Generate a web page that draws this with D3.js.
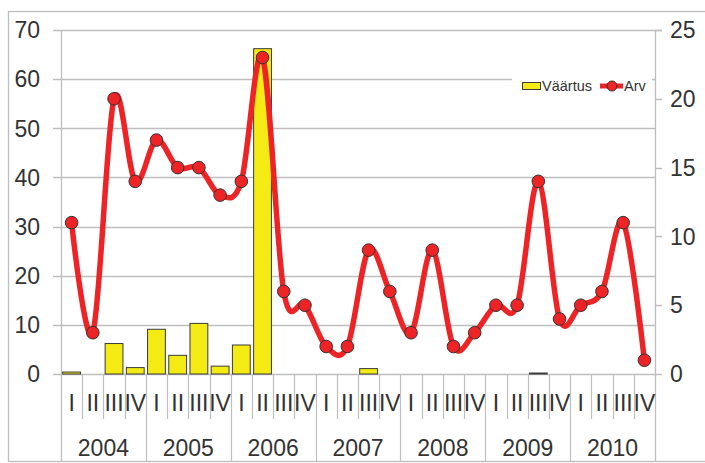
<!DOCTYPE html>
<html><head><meta charset="utf-8">
<script src="https://cdn.jsdelivr.net/npm/d3@7"></script>
<style>
html,body{margin:0;padding:0;background:#fff;}
svg{display:block;font-family:"Liberation Sans",Arial,sans-serif;}
.ax{font-family:"Liberation Sans Narrow","Liberation Sans",sans-serif;}
</style></head>
<body><svg id="c" width="705" height="463"></svg>
<script>
const years = ["2004","2005","2006","2007","2008","2009","2010"];
const quarters = ["I","II","III","IV"];
const vaartus = [0.4,0,6.2,1.3, 9.1,3.8,10.3,1.6, 5.9,66.2,0,0, 0,0,1.1,0, 0,0,0,0, 0,0,0.2,0, 0,0,0,0];
const arv = [11,3,20,14, 17,15,15,13, 14,23,6,5, 2,2,9,6, 3,9,2,3, 5,5,14,4, 5,6,11,1];
const leftTicks = [0,10,20,30,40,50,60,70];
const rightTicks = [0,5,10,15,20,25];
const seriesNames = ["Väärtus","Arv"];

const svg = d3.select("#c");
const L = 61, R = 655, T = 30, B = 374, BOT = 461;
const grid = "#BEBEBE", txt = "#333";
const FS = 23;
const cats = d3.range(years.length*quarters.length);
const x = d3.scaleBand().domain(cats).range([L,R]).padding(0);
const bw = x.bandwidth();
const yL = d3.scaleLinear().domain([0,70]).range([B,T]);
const yR = d3.scaleLinear().domain([0,25]).range([B,T]);

// outer border
svg.append("rect").attr("x",8.5).attr("y",11.5).attr("width",710).attr("height",BOT-11)
  .attr("fill","none").attr("stroke",grid).attr("stroke-width",1.3);

const gl = svg.append("g");
// gridlines + left ticks
leftTicks.forEach(t=>{
  const yy = Math.round(yL(t))+0.5;
  gl.append("line").attr("x1",L-8).attr("x2",t===70?R+7:R).attr("y1",yy).attr("y2",yy)
    .attr("stroke",grid).attr("stroke-width",1.5);
  gl.append("text").attr("class","ax").attr("x",40).attr("y",yL(t)).attr("dy","0.36em").attr("text-anchor","end")
    .attr("font-size",FS).attr("fill",txt).text(t);
});
// right ticks
rightTicks.forEach(t=>{
  const yy = Math.round(yR(t))+0.5;
  gl.append("line").attr("x1",R).attr("x2",R+7).attr("y1",yy).attr("y2",yy)
    .attr("stroke",grid).attr("stroke-width",1.5);
  gl.append("text").attr("class","ax").attr("x",670).attr("y",yR(t)).attr("dy","0.36em").attr("text-anchor","start")
    .attr("font-size",FS).attr("fill",txt).text(t);
});
// axis lines
gl.append("line").attr("x1",L+0.5).attr("x2",L+0.5).attr("y1",T).attr("y2",BOT).attr("stroke",grid).attr("stroke-width",1.3);
gl.append("line").attr("x1",R+0.5).attr("x2",R+0.5).attr("y1",T).attr("y2",BOT).attr("stroke",grid).attr("stroke-width",1.3);

// category separators and labels
cats.forEach(i=>{
  const xe = x(i);
  const isYear = i%4===0;
  if(i>0) gl.append("line").attr("x1",Math.round(xe)+0.5).attr("x2",Math.round(xe)+0.5)
    .attr("y1",B).attr("y2",isYear?BOT:419).attr("stroke",grid).attr("stroke-width",1.2);
  gl.append("text").attr("class","ax").attr("x",xe+bw/2).attr("y",403).attr("dy","0.36em").attr("text-anchor","middle")
    .attr("font-size",FS).attr("fill",txt).text(quarters[i%4]);
});
years.forEach((yv,j)=>{
  gl.append("text").attr("class","ax").attr("x",x(j*4)+bw*2).attr("y",448).attr("dy","0.36em").attr("text-anchor","middle")
    .attr("font-size",FS).attr("fill",txt).text(yv);
});

// bars
const bars = svg.append("g");
vaartus.forEach((d,i)=>{
  if(d<=0) return;
  bars.append("rect").attr("x",x(i)+bw*0.08).attr("width",bw*0.84)
    .attr("y",yL(d)).attr("height",yL(0)-yL(d))
    .attr("fill","#F5EB14").attr("stroke","#3a3a3a").attr("stroke-width",1);
});

// line
const line = d3.line().x((d,i)=>x(i)+bw/2).y(d=>yR(d)).curve(d3.curveCardinal.tension(0));
svg.append("path").datum(arv).attr("d",line).attr("fill","none")
  .attr("stroke","#EE2326").attr("stroke-width",5.5).attr("stroke-linejoin","round").attr("stroke-linecap","round");
svg.append("g").selectAll("circle").data(arv).join("circle")
  .attr("cx",(d,i)=>x(i)+bw/2).attr("cy",d=>yR(d)).attr("r",6.3)
  .attr("fill","#EE2326").attr("stroke","#333").attr("stroke-width",1);

// legend
const lg = svg.append("g");
lg.append("rect").attr("x",512).attr("y",74).attr("width",140).attr("height",24).attr("fill","#fff");
lg.append("rect").attr("x",522.5).attr("y",82.5).attr("width",18).attr("height",7)
  .attr("fill","#F5EB14").attr("stroke","#3a3a3a").attr("stroke-width",1);
lg.append("text").attr("x",542).attr("y",86).attr("dy","0.36em").attr("font-size",14.5).attr("fill",txt).text(seriesNames[0]);
lg.append("line").attr("x1",600).attr("x2",623).attr("y1",86).attr("y2",86).attr("stroke","#EE2326").attr("stroke-width",5);
lg.append("circle").attr("cx",612).attr("cy",86).attr("r",5).attr("fill","#EE2326").attr("stroke","#333").attr("stroke-width",1);
lg.append("text").attr("x",624).attr("y",86).attr("dy","0.36em").attr("font-size",14.5).attr("fill",txt).text(seriesNames[1]);
</script></body></html>
